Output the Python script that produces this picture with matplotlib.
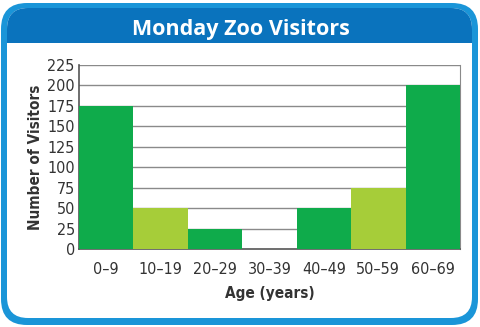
import matplotlib.pyplot as plt
import numpy as np
from matplotlib.patches import FancyBboxPatch, Rectangle
from matplotlib.font_manager import FontProperties

ages = ['0–9', '10–19', '20–29', '30–39', '40–49', '50–59', '60–69']
visitors = [175, 50, 25, 0, 50, 75, 200]
bar_colors = ['#0fab4b', '#a6cd39', '#0fab4b', '#0fab4b', '#0fab4b', '#a6cd39', '#0fab4b']
y_ticks = [0, 25, 50, 75, 100, 125, 150, 175, 200, 225]

W, H = 481, 327
fig = plt.figure(figsize=(W / 100, H / 100), dpi=100)
fig.patch.set_facecolor('white')

# blue rounded frame
outer = FancyBboxPatch((1, 2), 477, 322, boxstyle='round,pad=0,rounding_size=26',
                       transform=None, facecolor='#1a95d8', edgecolor='none', zorder=0)
fig.patches.append(outer)
inner = FancyBboxPatch((7, 9), 465, 310, boxstyle='round,pad=0,rounding_size=21',
                       transform=None, facecolor='white', edgecolor='none', zorder=1)
fig.patches.append(inner)
# title band, clipped to the inner box
band = Rectangle((0, H - 43), W, 40, transform=None, facecolor='#0a73bd',
                 edgecolor='none', zorder=2)
band.set_clip_path(inner)
fig.patches.append(band)

fig.text(0.5, 1 - 29 / H, 'Monday Zoo Visitors', color='white', fontsize=15.5,
         fontweight='bold', ha='center', va='center', family=['Open Sans', 'DejaVu Sans'],
         zorder=5)

l, r, t, b = 79, 460, 65, 249
ax = fig.add_axes([l / W, 1 - b / H, (r - l) / W, (b - t) / H], zorder=3)
ax.set_facecolor('none')

x = np.arange(len(ages))
ax.bar(x, visitors, width=1.0, color=bar_colors, edgecolor='none', zorder=3)
ax.set_xlim(-0.5, len(ages) - 0.5)
ax.set_ylim(0, 225)
ax.set_yticks(y_ticks)
ax.set_xticks(x)
ax.set_xticklabels(ages)

for v in y_ticks[1:]:
    ax.axhline(v, color='#8a8a8a', lw=1.0, zorder=1)

tick_font = FontProperties(family='DejaVu Sans', stretch='condensed', size=11.5)
ax.tick_params(length=0, pad=3, colors='#333333')
for lab in ax.get_xticklabels() + ax.get_yticklabels():
    lab.set_fontproperties(tick_font)
ax.tick_params(axis='x', pad=9)

for s in ['left', 'bottom']:
    ax.spines[s].set_color('#555555')
    ax.spines[s].set_linewidth(1.2)
ax.spines['right'].set_color('#8a8a8a')
ax.spines['top'].set_visible(False)

label_font = FontProperties(family='DejaVu Sans', stretch='condensed',
                            weight='bold', size=11)
ax.set_xlabel('Age (years)', fontproperties=label_font, color='#333333', labelpad=7)
ax.set_ylabel('Number of Visitors', fontproperties=label_font, color='#333333', labelpad=3)

fig.savefig('out.png', dpi=100)
